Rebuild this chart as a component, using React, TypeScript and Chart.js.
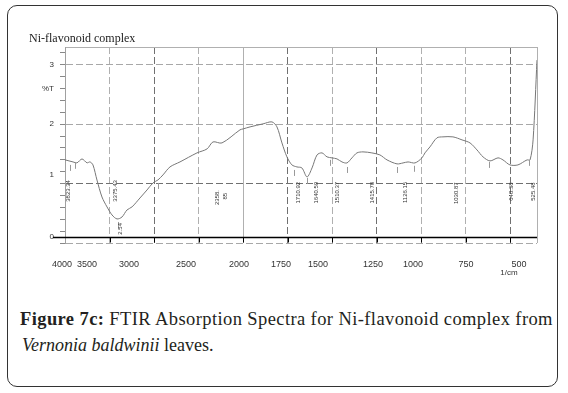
import React, { useEffect, useRef } from 'react';
import { Chart, registerables, LinearScale } from 'chart.js';

// ---- data -------------------------------------------------------------
const wavenumbers = [4000, 3910, 3865, 3809, 3753, 3719, 3686, 3641, 3585, 3528, 3472, 3416, 3360, 3304, 3248, 3158, 3079, 3012, 2956, 2900, 2821, 2709, 2518, 2405, 2338, 2237, 2035, 2000, 1961, 1888, 1838, 1810, 1782, 1754, 1726, 1698, 1670, 1641, 1613, 1585, 1557, 1529, 1501, 1473, 1445, 1417, 1389, 1361, 1327, 1277, 1232, 1192, 1136, 1102, 1074, 1035, 996, 979, 951, 912, 878, 822, 771, 726, 687, 653, 614, 569, 541, 502, 457, 406, 389, 372, 350];
const transmittance = [1.40, 1.365, 1.35, 1.415, 1.35, 1.365, 1.315, 1.06, 0.775, 0.607, 0.472, 0.405, 0.438, 0.556, 0.607, 0.758, 0.893, 1.011, 1.062, 1.146, 1.281, 1.365, 1.517, 1.584, 1.702, 1.685, 1.905, 1.921, 1.955, 2.006, 2.039, 1.955, 1.685, 1.45, 1.315, 1.281, 1.264, 1.112, 1.264, 1.483, 1.517, 1.45, 1.433, 1.416, 1.365, 1.348, 1.433, 1.517, 1.534, 1.517, 1.483, 1.399, 1.332, 1.348, 1.365, 1.348, 1.433, 1.517, 1.618, 1.77, 1.787, 1.787, 1.736, 1.685, 1.567, 1.45, 1.382, 1.433, 1.399, 1.315, 1.315, 1.399, 1.399, 1.736, 3.08];

// vertical grid lines (wavenumbers)
const gridWn = [3500, 3000, 2500, 2000, 1750, 1500, 1250, 1000, 750, 500, 350];
const gridColors = ['#b0b0b0', '#707070', '#b0b0b0', '#b0b0b0', '#707070', '#b0b0b0', '#707070', '#b0b0b0', '#b0b0b0', '#707070', '#b0b0b0'];
const solidGridWn = [2000, 350];

// printed x tick labels and where they sit on the axis
const xTickLabels = ['4000', '3500', '3000', '2500', '2000', '1750', '1500', '1250', '1000', '750', '500'];
const xTickAt = [4034, 3753, 3281, 2641, 2046, 1787, 1580, 1271, 1046, 749, 451];

// y axis
const yMinorTicks = [0, 0.2, 0.4, 0.6, 0.8, 1, 1.2, 1.4, 1.6, 1.8, 2, 2.2, 2.4, 2.6, 2.8, 3, 3.2, 3.3];
const yTickLabels = ['3', '%T', '2', '1', '0'];
const yTickAt = [3, 2.596, 2, 1.146, 0.101];
const yMin = 0;
const yMax = 3.3;
const baselineValue = 0.1;

// peak annotations
const peakLabelText = ['3823.34', '3375.43', '2358.', '85', '1710.92', '1640.59', '1510.37', '1415.78', '1126.15', '1030.87', '640.38', '525.48', '2.54'];
const peakLabelWn = [3966, 3438, 2293, 2203, 1692, 1591, 1473, 1276, 1091, 805, 496, 372, 3382];
const peakLabelTop = [1.06, 1.06, 0.893, 0.843, 1.03, 1.03, 1.03, 1.03, 1.03, 1.02, 1.02, 1.02, 0.337];
const markerWn = [3944, 3888, 3405, 2956, 1714, 1641, 1512, 1417, 1136, 1041, 620, 395];
const markerTop = [1.315, 1.35, 0.354, 1.011, 1.23, 1.096, 1.40, 1.28, 1.28, 1.30, 1.365, 1.40];
const unitLabel = '1/cm';
const unitLabelWn = 507;

// ---- FTIR axis: 4000-2000 at 500/div, 2000-350 at 250/div ---------------
function wnToDiv(w: number) {
  return w >= 2000 ? (4000 - w) / 500 : 4 + (2000 - w) / 250;
}
function divToWn(d: number) {
  return d <= 4 ? 4000 - d * 500 : 2000 - (d - 4) * 250;
}
const TOTAL_DIV = wnToDiv(350);

class FtirScale extends LinearScale {
  static id = 'ftir';
  static defaults = LinearScale.defaults;
  getPixelForValue(value: number) {
    return this.left + (wnToDiv(value) / TOTAL_DIV) * this.width;
  }
  getValueForPixel(pixel: number) {
    return divToWn(((pixel - this.left) / this.width) * TOTAL_DIV);
  }
}

Chart.register(...registerables, FtirScale as any);

const SANS = '"Liberation Sans", Arial, sans-serif';

const decor = {
  id: 'decor',
  afterDatasetsDraw(chart: any) {
    const { ctx } = chart;
    const x = chart.scales.x;
    const y = chart.scales.y;
    ctx.save();
    // black baseline with ticks
    const by = Math.round(y.getPixelForValue(baselineValue)) + 0.5;
    ctx.strokeStyle = '#000';
    ctx.lineWidth = 1.6;
    ctx.beginPath();
    ctx.moveTo(x.left - 12, by);
    ctx.lineTo(x.right, by);
    ctx.stroke();
    ctx.lineWidth = 1;
    ctx.beginPath();
    gridWn.slice(0, -1).forEach((w) => {
      const px = Math.round(x.getPixelForValue(w)) + 0.5;
      ctx.moveTo(px, by);
      ctx.lineTo(px, by + 5);
    });
    ctx.stroke();
    // peak markers
    ctx.strokeStyle = '#999';
    ctx.beginPath();
    markerWn.forEach((w, i) => {
      const px = Math.round(x.getPixelForValue(w)) + 0.5;
      const top = y.getPixelForValue(markerTop[i]);
      ctx.moveTo(px, top);
      ctx.lineTo(px, top + 6);
    });
    ctx.stroke();
    // peak labels (vertical)
    ctx.fillStyle = '#333';
    ctx.font = '6px ' + SANS;
    peakLabelText.forEach((t, i) => {
      ctx.save();
      ctx.translate(x.getPixelForValue(peakLabelWn[i]), y.getPixelForValue(peakLabelTop[i]));
      ctx.rotate(-Math.PI / 2);
      ctx.textAlign = 'right';
      ctx.textBaseline = 'middle';
      ctx.fillText(t, 0, 0);
      ctx.restore();
    });
    // unit label
    ctx.font = '8px ' + SANS;
    ctx.textAlign = 'center';
    ctx.textBaseline = 'middle';
    ctx.fillText(unitLabel, x.getPixelForValue(unitLabelWn), y.bottom + 30);
    ctx.restore();
  },
};

export default function App() {
  const ref = useRef<HTMLCanvasElement>(null);
  useEffect(() => {
    if (!ref.current) return;
    const chart = new Chart(ref.current, {
      type: 'line',
      data: {
        datasets: [
          {
            data: wavenumbers.map((w, i) => ({ x: w, y: transmittance[i] })),
            borderColor: '#777',
            borderWidth: 1,
            pointRadius: 0,
            tension: 0.3,
            xAxisID: 'x',
            yAxisID: 'y',
          },
        ],
      },
      options: {
        responsive: false,
        animation: false,
        devicePixelRatio: 1,
        layout: { padding: { top: 47, right: 31, bottom: 5, left: 0 } },
        plugins: { legend: { display: false }, tooltip: { enabled: false }, title: { display: false } },
        scales: {
          x: {
            type: 'ftir' as any,
            min: 350,
            max: 4000,
            position: 'bottom',
            weight: 0,
            afterBuildTicks: (s: any) => {
              s.ticks = gridWn.map((v) => ({ value: v }));
            },
            afterFit: (s: any) => {
              s.height = 0;
            },
            ticks: { display: false },
            grid: {
              color: (c: any) => gridColors[c.index] || '#b0b0b0',
              lineWidth: 1,
              drawTicks: false,
            },
            border: {
              display: false,
              dash: (c: any) => (c.type === 'tick' && c.tick && solidGridWn.includes(c.tick.value) ? [] : [7, 3]),
            },
          } as any,
          xl: {
            type: 'ftir' as any,
            axis: 'x',
            min: 350,
            max: 4000,
            position: 'bottom',
            weight: 1,
            afterBuildTicks: (s: any) => {
              s.ticks = xTickAt.map((v) => ({ value: v }));
            },
            afterFit: (s: any) => {
              s.height = 37;
            },
            grid: { display: false, drawTicks: false },
            border: { display: false },
            ticks: {
              autoSkip: false,
              maxRotation: 0,
              padding: 16,
              color: '#333',
              font: { family: SANS, size: 9 },
              callback: (_v: any, i: number) => xTickLabels[i],
            },
          } as any,
          y: {
            type: 'linear',
            min: yMin,
            max: yMax,
            position: 'left',
            weight: 0,
            afterBuildTicks: (s: any) => {
              s.ticks = yMinorTicks.map((v) => ({ value: v }));
            },
            afterFit: (s: any) => {
              s.width = 0;
            },
            ticks: { display: false },
            grid: {
              color: (c: any) => {
                const v = c.tick ? c.tick.value : 0;
                if (v === yMax) return '#b0b0b0';
                if (Math.abs(v - Math.round(v)) < 1e-6) return v === 1 ? '#707070' : '#a8a8a8';
                return 'rgba(0,0,0,0)';
              },
              tickColor: (c: any) => (c.tick && c.tick.value === yMax ? 'rgba(0,0,0,0)' : '#888'),
              tickLength: 5,
              drawTicks: true,
              lineWidth: 1,
            },
            border: {
              display: true,
              color: '#a0a0a0',
              width: 1,
              dash: (c: any) => (c.type === 'tick' && c.tick && c.tick.value !== yMax ? [7, 3] : []),
            },
          } as any,
          yl: {
            type: 'linear',
            axis: 'y',
            min: yMin,
            max: yMax,
            position: 'left',
            weight: 1,
            afterBuildTicks: (s: any) => {
              s.ticks = yTickAt.map((v) => ({ value: v }));
            },
            afterFit: (s: any) => {
              s.width = 65;
            },
            grid: { display: false, drawTicks: false },
            border: { display: false },
            ticks: {
              autoSkip: false,
              padding: 11,
              color: '#333',
              font: { family: SANS, size: 8 },
              callback: (_v: any, i: number) => yTickLabels[i],
            },
          } as any,
        },
      },
      plugins: [decor],
    });
    return () => chart.destroy();
  }, []);

  return (
    <div style={{ position: 'absolute', left: 0, top: 0, width: 568, height: 393, background: '#fff', overflow: 'hidden' }}>
      <div
        style={{
          position: 'absolute',
          left: 7,
          top: 5,
          width: 551,
          height: 382,
          border: '1.5px solid #333',
          borderRadius: 10,
          boxSizing: 'border-box',
        }}
      />
      <canvas ref={ref} width={568} height={285} style={{ position: 'absolute', left: 0, top: 0, width: 568, height: 285 }} />
      <div
        style={{
          position: 'absolute',
          left: 29,
          top: 31,
          font: '12px "Liberation Serif", serif',
          lineHeight: '15px',
          color: '#222',
          whiteSpace: 'nowrap',
        }}
      >
        Ni-flavonoid complex
      </div>
      <div
        style={{
          position: 'absolute',
          left: 20,
          top: 306,
          font: '18.5px "Liberation Serif", serif',
          lineHeight: '26px',
          letterSpacing: '0.4px',
          color: '#231f20',
          whiteSpace: 'nowrap',
        }}
      >
        <b>Figure 7c:</b> FTIR Absorption Spectra for Ni-flavonoid complex from
      </div>
      <div
        style={{
          position: 'absolute',
          left: 22,
          top: 332,
          font: '18px "Liberation Serif", serif',
          lineHeight: '26px',
          color: '#231f20',
          whiteSpace: 'nowrap',
        }}
      >
        <i>Vernonia baldwinii</i> leaves.
      </div>
    </div>
  );
}
